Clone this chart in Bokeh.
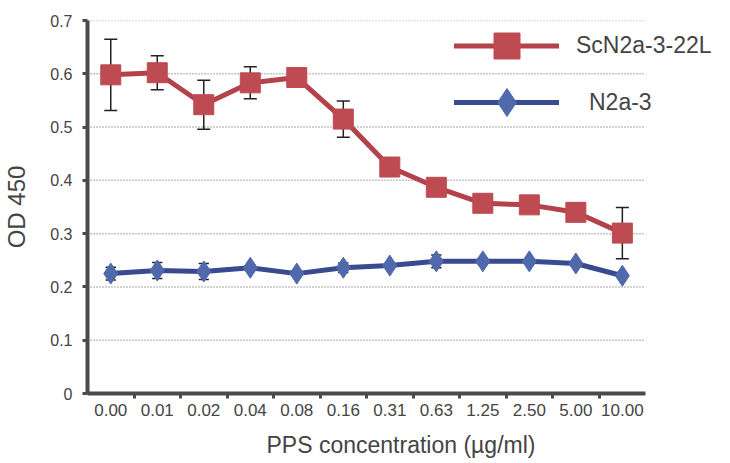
from bokeh.plotting import figure
from bokeh.models import (Range1d, FixedTicker, ColumnDataSource, Legend, LegendItem)
from bokeh.embed import file_html
from bokeh.resources import INLINE

# ---- data ----
concentrations = ["0.00", "0.01", "0.02", "0.04", "0.08", "0.16", "0.31",
                  "0.63", "1.25", "2.50", "5.00", "10.00"]
scn2a_mean = [0.598, 0.602, 0.542, 0.583, 0.593, 0.515, 0.425, 0.387,
              0.357, 0.354, 0.340, 0.301]
scn2a_err = [0.067, 0.032, 0.046, 0.030, 0.0, 0.034, 0.0, 0.0,
             0.0, 0.0, 0.0, 0.048]
n2a_mean = [0.225, 0.231, 0.229, 0.236, 0.225, 0.236, 0.240, 0.248,
            0.248, 0.248, 0.244, 0.221]
n2a_err = [0.012, 0.015, 0.015, 0.005, 0.0, 0.009, 0.0, 0.012,
           0.006, 0.0, 0.0, 0.0]
y_ticks = [0, 0.1, 0.2, 0.3, 0.4, 0.5, 0.6, 0.7]

FONT = "Liberation Sans"
RED_LINE = "#B3424B"
RED_FILL = "#BE4A52"
BLUE_LINE = "#3A4A8E"
BLUE_FILL = "#5069AD"
AXIS = "#4a4a4a"
TXT = "#444444"

W, H = 714, 463
LEFT, TOP, BOTTOM = 86, 20, 70
PLOT_W = 559           # pixel width of the category area
n = len(concentrations)
xs = [i + 0.5 for i in range(n)]
x_end = n * (W - LEFT) / PLOT_W   # frame runs to the right edge (room for legend)

p = figure(width=W, height=H, output_backend="svg", toolbar_location=None,
           x_range=Range1d(0, x_end), y_range=Range1d(0, 0.7),
           min_border_left=LEFT, min_border_right=0, min_border_top=TOP,
           min_border_bottom=BOTTOM)
p.outline_line_color = None
p.background_fill_color = "white"
p.xgrid.visible = False
p.ygrid.visible = False

# dotted horizontal grid lines across the category area only
gy = [t for t in y_ticks if t > 0]
p.segment(x0=[0] * len(gy), x1=[n] * len(gy), y0=gy, y1=gy,
          line_color="#8a8a8a", line_dash="1 2", line_width=1.5)

# y axis
ya = p.yaxis[0]
ya.ticker = FixedTicker(ticks=y_ticks)
ya.major_label_overrides = {0: "0"}
ya.axis_line_color = AXIS
ya.axis_line_width = 4
ya.major_tick_line_color = AXIS
ya.major_tick_line_width = 3
ya.major_tick_out = 5
ya.major_tick_in = 0
ya.minor_tick_line_color = None
ya.major_label_text_font = FONT
ya.major_label_text_font_size = "16px"
ya.major_label_text_color = TXT
ya.major_label_standoff = 10
ya.axis_label = "OD 450"
ya.axis_label_text_font = FONT
ya.axis_label_text_font_size = "24px"
ya.axis_label_text_font_style = "normal"
ya.axis_label_text_color = TXT
ya.axis_label_standoff = 17

# x axis: labels at category centres, ticks at boundaries
xa = p.xaxis[0]
xa.bounds = (0, n)
xa.ticker = FixedTicker(ticks=xs, minor_ticks=list(range(1, n)))
xa.major_label_overrides = {x: c for x, c in zip(xs, concentrations)}
xa.axis_line_color = AXIS
xa.axis_line_width = 4
xa.major_tick_line_color = None
xa.major_tick_out = 5
xa.major_tick_in = 0
xa.minor_tick_line_color = AXIS
xa.minor_tick_line_width = 3
xa.minor_tick_out = 5
xa.minor_tick_in = 0
xa.major_label_text_font = FONT
xa.major_label_text_font_size = "17px"
xa.major_label_text_color = TXT
xa.major_label_standoff = 5
xa.axis_label = "PPS concentration (\u00b5g/ml)"
xa.axis_label_text_font = FONT
xa.axis_label_text_font_size = "23px"
xa.axis_label_text_font_style = "normal"
xa.axis_label_text_color = TXT
xa.axis_label_standoff = 13


def err_sources(means, errs, half):
    xv, lo, hi, cx0, cx1, cy = [], [], [], [], [], []
    for x, m, e in zip(xs, means, errs):
        if e <= 0:
            continue
        xv.append(x); lo.append(m - e); hi.append(m + e)
        for yy in (m - e, m + e):
            cx0.append(x - half); cx1.append(x + half); cy.append(yy)
    return (ColumnDataSource(dict(x=xv, lo=lo, hi=hi)),
            ColumnDataSource(dict(x0=cx0, x1=cx1, y=cy)))


for means, errs, half in ((scn2a_mean, scn2a_err, 0.14), (n2a_mean, n2a_err, 0.11)):
    vs, cs = err_sources(means, errs, half)
    p.segment(x0="x", y0="lo", x1="x", y1="hi", source=vs,
              line_color="#222222", line_width=1.5)
    p.segment(x0="x0", y0="y", x1="x1", y1="y", source=cs,
              line_color="#222222", line_width=1.5)

red_line = p.line(xs, scn2a_mean, line_color=RED_LINE, line_width=5,
                  line_join="round", line_cap="round")
red_pts = p.scatter(xs, scn2a_mean, marker="square", size=20,
                    fill_color=RED_FILL, line_color=RED_FILL, line_width=1)
blue_line = p.line(xs, n2a_mean, line_color=BLUE_LINE, line_width=5,
                   line_join="round", line_cap="round")
blue_pts = p.scatter(xs, n2a_mean, marker="diamond", size=21,
                     fill_color=BLUE_FILL, line_color=BLUE_FILL, line_width=1)


def make_legend(label, renderers, loc, gh, standoff):
    lg = Legend(items=[LegendItem(label=label, renderers=renderers)],
                location=loc, glyph_width=105, glyph_height=gh,
                label_standoff=standoff, padding=0, margin=0, spacing=0,
                border_line_color=None, background_fill_alpha=0,
                label_text_font=FONT, label_text_font_size="23px",
                label_text_color=TXT)
    p.add_layout(lg, "center")


make_legend("ScN2a-3-22L", [red_line, red_pts], (367, 315), 65, 17)
make_legend("N2a-3", [blue_line, blue_pts], (367, 256), 70, 30)

open("out.html", "w").write(file_html(p, INLINE))
